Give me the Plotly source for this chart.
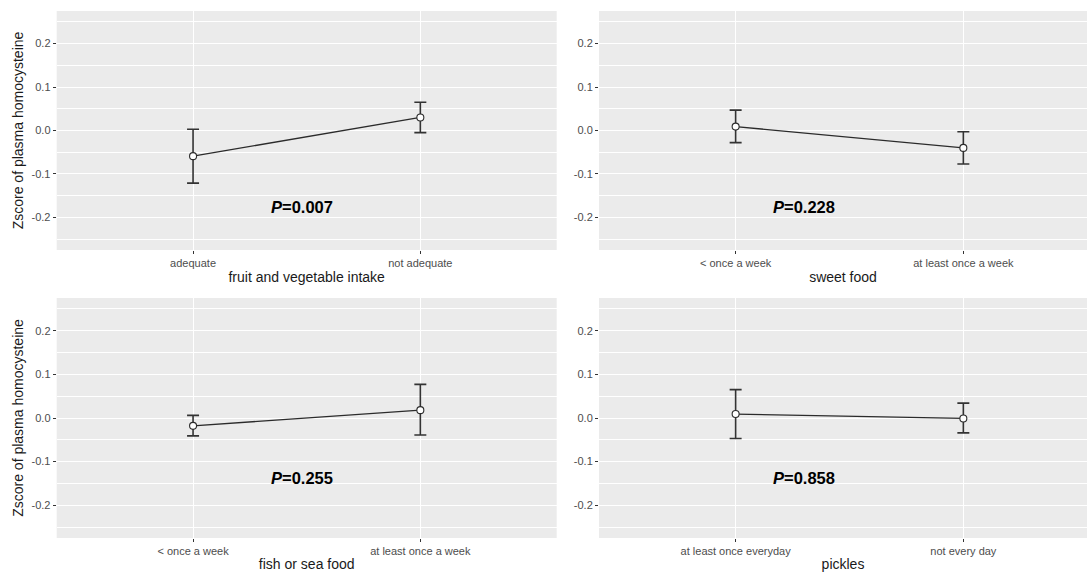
import plotly.graph_objects as go

# ---------------- data ----------------
panel_titles = ["fruit and vegetable intake", "sweet food", "fish or sea food", "pickles"]
categories = [
    ["adequate", "not adequate"],
    ["< once a week", "at least once a week"],
    ["< once a week", "at least once a week"],
    ["at least once everyday", "not every day"],
]
means = [
    [-0.059, 0.030],
    [0.009, -0.040],
    [-0.018, 0.018],
    [0.009, -0.001],
]
upper = [
    [0.003, 0.065],
    [0.047, -0.003],
    [0.006, 0.077],
    [0.065, 0.034],
]
lower = [
    [-0.121, -0.005],
    [-0.028, -0.077],
    [-0.041, -0.039],
    [-0.047, -0.034],
]
p_labels = ["0.007", "0.228", "0.255", "0.858"]
p_x = [1.48, 1.30, 1.48, 1.30]
p_y = [-0.175, -0.175, -0.137, -0.137]
y_title = "Zscore of plasma homocysteine"
y_tick_vals = [-0.2, -0.1, 0.0, 0.1, 0.2]
y_tick_text = ["-0.2", "-0.1", "0.0", "0.1", "0.2"]
y_minor_vals = [-0.25, -0.15, -0.05, 0.05, 0.15, 0.25]

# ---------------- layout geometry ----------------
W, H = 1087, 572
FONT = "Liberation Sans, Arial, Helvetica, sans-serif"
left_dom = [56.7 / W, 556.7 / W]
right_dom = [599 / W, 1.0]
top_dom = [(H - 250) / H, (H - 11) / H]
bot_dom = [(H - 538) / H, (H - 298) / H]
doms = [(left_dom, top_dom), (right_dom, top_dom), (left_dom, bot_dom), (right_dom, bot_dom)]
xranges = [[0.4, 2.6], [0.4, 2.543], [0.4, 2.6], [0.4, 2.543]]

fig = go.Figure()
layout = dict(
    width=W, height=H,
    margin=dict(l=0, r=0, t=0, b=0),
    paper_bgcolor="white",
    plot_bgcolor="#EBEBEB",
    showlegend=False,
    font=dict(family=FONT),
)

annotations = []
for i in range(4):
    xa = "x" if i == 0 else f"x{i+1}"
    ya = "y" if i == 0 else f"y{i+1}"
    xs = [1, 2]
    fig.add_trace(go.Scatter(
        x=xs, y=means[i], xaxis=xa, yaxis=ya,
        mode="lines+markers",
        line=dict(color="#2b2b2b", width=1.3),
        marker=dict(size=7, color="white", line=dict(color="#2b2b2b", width=1.1)),
        error_y=dict(
            type="data", symmetric=False,
            array=[u - m for u, m in zip(upper[i], means[i])],
            arrayminus=[m - l for m, l in zip(means[i], lower[i])],
            color="#333333", thickness=1.6, width=6,
        ),
        cliponaxis=False,
    ))
    xd, yd = doms[i]
    xkey = "xaxis" if i == 0 else f"xaxis{i+1}"
    ykey = "yaxis" if i == 0 else f"yaxis{i+1}"
    layout[xkey] = dict(
        domain=xd, anchor=ya, range=xranges[i],
        tickmode="array", tickvals=[1, 2], ticktext=categories[i],
        showgrid=True, gridcolor="white", gridwidth=1.1,
        zeroline=False, showline=False,
        ticks="outside", ticklen=3, tickwidth=1, tickcolor="#333333",
        tickfont=dict(size=11, color="#4D4D4D", family=FONT),
        title=dict(text=panel_titles[i], font=dict(size=14, color="#1a1a1a", family=FONT), standoff=3),
        fixedrange=True,
    )
    layout[ykey] = dict(
        domain=yd, anchor=xa, range=[-0.275, 0.275],
        tickmode="array", tickvals=y_tick_vals, ticktext=y_tick_text,
        showgrid=True, gridcolor="white", gridwidth=1.1,
        minor=dict(tickmode="array", tickvals=y_minor_vals, showgrid=True,
                   gridcolor="white", gridwidth=0.55, ticklen=0),
        zeroline=False, showline=False,
        ticks="outside", ticklen=3, tickwidth=1, tickcolor="#333333",
        tickfont=dict(size=11, color="#4D4D4D", family=FONT),
        title=dict(text=y_title if i in (0, 2) else "",
                   font=dict(size=14, color="#1a1a1a", family=FONT), standoff=4),
        fixedrange=True,
    )
    annotations.append(dict(
        x=p_x[i], y=p_y[i], xref=xa, yref=ya,
        text=f"<b><i>P</i>=" + p_labels[i] + "</b>",
        showarrow=False, xanchor="center", yanchor="middle",
        font=dict(size=16.5, color="black", family=FONT),
    ))

layout["annotations"] = annotations
fig.update_layout(**layout)
fig.write_html("out.html")
